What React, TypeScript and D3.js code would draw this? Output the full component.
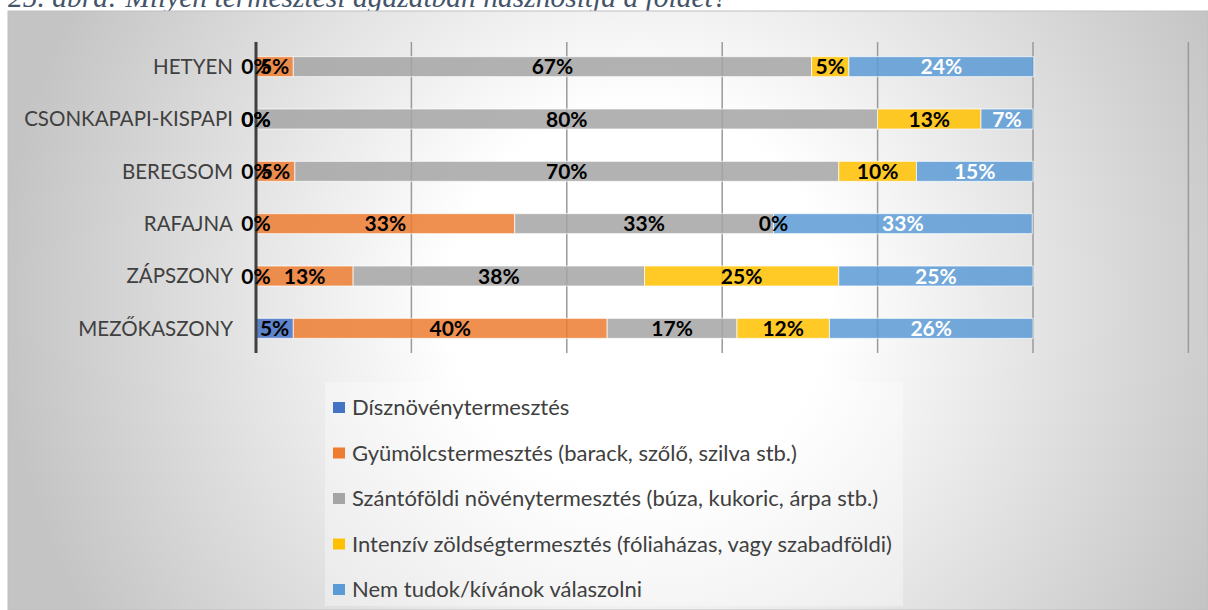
import React, { useRef, useEffect } from "react";
import * as d3 from "d3";

// Settlements (top to bottom)
const categories = [
  "HETYEN",
  "CSONKAPAPI-KISPAPI",
  "BEREGSOM",
  "RAFAJNA",
  "ZÁPSZONY",
  "MEZŐKASZONY",
];

const seriesNames = [
  "Dísznövénytermesztés",
  "Gyümölcstermesztés (barack, szőlő, szilva stb.)",
  "Szántóföldi növénytermesztés (búza, kukoric, árpa stb.)",
  "Intenzív zöldségtermesztés (fóliaházas, vagy szabadföldi)",
  "Nem tudok/kívánok válaszolni",
];

// percentages per settlement, same order as categories
const disznoveny = [0, 0, 0, 0, 0, 4.8];
const gyumolcs = [4.8, 0, 5, 33.3, 12.5, 40.4];
const szantofoldi = [66.7, 80, 70, 33.3, 37.5, 16.7];
const zoldseg = [4.8, 13.3, 10, 0, 25, 11.9];
const nemTudom = [23.8, 6.7, 15, 33.3, 25, 26.2];

const seriesValues = [disznoveny, gyumolcs, szantofoldi, zoldseg, nemTudom];
const colors = ["#4472C4", "#ED7D31", "#A5A5A5", "#FFC000", "#5B9BD5"];
const labelColors = ["#000", "#000", "#000", "#000", "#fff"];
const gridTicks = [0, 20, 40, 60, 80, 100, 120];

const title = "25. ábra: Milyen termesztési ágazatban hasznosítja a földet?";

const App = () => {
  const svgRef = useRef(null);

  useEffect(() => {
    const width = 1208;
    const height = 610;
    const svg = d3.select(svgRef.current);
    svg.selectAll("*").remove();

    // background gradient
    const defs = svg.append("defs");
    const grad = defs
      .append("radialGradient")
      .attr("id", "bg")
      .attr("gradientUnits", "userSpaceOnUse")
      .attr("cx", 640)
      .attr("cy", 300)
      .attr("r", 640);
    grad.append("stop").attr("offset", "0%").attr("stop-color", "#ffffff");
    grad.append("stop").attr("offset", "30%").attr("stop-color", "#ffffff");
    grad.append("stop").attr("offset", "100%").attr("stop-color", "#c4c4c4");

    // figure caption, cropped at the top
    svg
      .append("text")
      .attr("x", 8)
      .attr("y", 7)
      .attr("font-family", "'Liberation Serif', serif")
      .attr("font-style", "italic")
      .attr("font-size", 29.5)
      .attr("fill", "#44546A")
      .text(title);

    svg
      .append("rect")
      .attr("x", 8)
      .attr("y", 11)
      .attr("width", width - 8)
      .attr("height", height - 11)
      .attr("fill", "url(#bg)")
      .attr("stroke", "#bfbfbf")
      .attr("stroke-width", 1);

    const top = 42;
    const bottom = 353;

    const x = d3.scaleLinear().domain([0, 100]).range([256, 1033]);
    const y = d3
      .scaleBand()
      .domain(categories)
      .range([40.5, 354.5])
      .paddingInner(0.618)
      .paddingOuter(0.309);

    // gridlines
    svg
      .append("g")
      .selectAll("line")
      .data(gridTicks.slice(1))
      .join("line")
      .attr("x1", (d) => x(d))
      .attr("x2", (d) => x(d))
      .attr("y1", top)
      .attr("y2", bottom)
      .attr("stroke", "#9a9a9a")
      .attr("stroke-width", 1.5);

    // stacked data
    const rows = categories.map((c, i) => {
      let acc = 0;
      return seriesValues.map((s, k) => {
        const start = acc;
        acc += s[i];
        return { cat: c, k, value: s[i], start, end: acc };
      });
    });
    const segments = rows.flat();

    svg
      .append("g")
      .selectAll("rect")
      .data(segments)
      .join("rect")
      .attr("x", (d) => x(d.start))
      .attr("y", (d) => y(d.cat))
      .attr("width", (d) => x(d.end) - x(d.start))
      .attr("height", y.bandwidth())
      .attr("fill", (d) => colors[d.k])
      .attr("fill-opacity", 0.85)
      .attr("stroke", "#ffffff")
      .attr("stroke-opacity", 0.7)
      .attr("stroke-width", 1);

    // axis line
    svg
      .append("line")
      .attr("x1", x(0))
      .attr("x2", x(0))
      .attr("y1", top)
      .attr("y2", bottom)
      .attr("stroke", "#404040")
      .attr("stroke-width", 3);

    // category labels
    svg
      .append("g")
      .selectAll("text")
      .data(categories)
      .join("text")
      .attr("x", 233)
      .attr("y", (d) => y(d) + y.bandwidth() / 2)
      .attr("dy", "0.36em")
      .attr("text-anchor", "end")
      .attr("font-family", "Lato, sans-serif")
      .attr("font-size", 20.5)
      .attr("fill", "#404040")
      .text((d) => d);

    // value labels
    svg
      .append("g")
      .selectAll("text")
      .data(segments)
      .join("text")
      .attr("x", (d) => x((d.start + d.end) / 2))
      .attr("y", (d) => y(d.cat) + y.bandwidth() / 2)
      .attr("dy", "0.36em")
      .attr("text-anchor", "middle")
      .attr("font-family", "Lato, sans-serif")
      .attr("font-weight", "bold")
      .attr("font-size", 21)
      .attr("fill", (d) => labelColors[d.k])
      .text((d) => `${Math.round(d.value)}%`);

    // legend
    const legend = svg.append("g");
    legend
      .append("rect")
      .attr("x", 325)
      .attr("y", 382)
      .attr("width", 578)
      .attr("height", 224)
      .attr("fill", "#ffffff")
      .attr("fill-opacity", 0.35);

    const ly = d3.scalePoint().domain(seriesNames).range([407.5, 589.5]);
    const items = legend
      .selectAll("g.item")
      .data(seriesNames)
      .join("g")
      .attr("class", "item")
      .attr("transform", (d) => `translate(333,${ly(d)})`);
    items
      .append("rect")
      .attr("x", 0)
      .attr("y", -5.5)
      .attr("width", 12)
      .attr("height", 11)
      .attr("fill", (d, i) => colors[i]);
    items
      .append("text")
      .attr("x", 19)
      .attr("dy", "0.36em")
      .attr("font-family", "Lato, sans-serif")
      .attr("font-size", 22)
      .attr("fill", "#404040")
      .text((d) => d);
  }, []);

  return (
    <svg
      ref={svgRef}
      width={1208}
      height={610}
      style={{ position: "absolute", left: 0, top: 0, display: "block" }}
    ></svg>
  );
};

export default App;
